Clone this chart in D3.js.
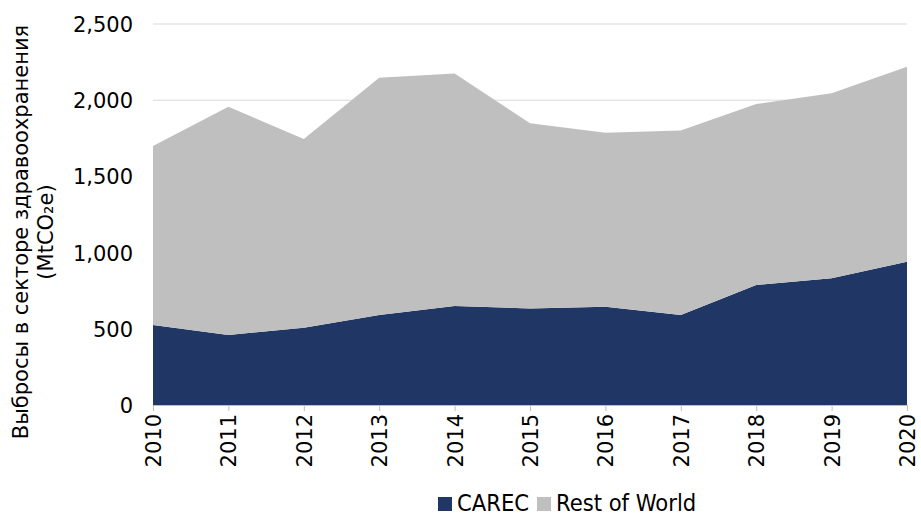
<!DOCTYPE html>
<html lang="ru">
<head>
    <meta charset="UTF-8">
    <script src="https://d3js.org/d3.v7.min.js"></script>
    <style>
        body { margin: 0; background: #fff; }
        text { font-family: "DejaVu Sans", Verdana, sans-serif; fill: #000; }
        .legend text { font-family: "DejaVu Sans Condensed", "DejaVu Sans", sans-serif; font-stretch: condensed; }
    </style>
</head>
<body>
    <svg id="chart" width="921" height="517"></svg>
    <script>
        // Данные с графика (MtCO2e)
        const years = [2010, 2011, 2012, 2013, 2014, 2015, 2016, 2017, 2018, 2019, 2020];
        const carec = [525, 459, 507, 591, 650, 634, 645, 591, 787, 831, 940];
        const restOfWorld = [1174, 1498, 1238, 1557, 1526, 1214, 1142, 1211, 1188, 1214, 1280];
        const yTicks = [0, 500, 1000, 1500, 2000, 2500];
        const seriesNames = ["CAREC", "Rest of World"];
        const colors = ["#203765", "#bfbfbf"];

        const width = 921, height = 517;
        const margin = { top: 24, right: 14, bottom: 112, left: 153 };

        const svg = d3.select("#chart");

        const x = d3.scaleLinear()
            .domain([years[0], years[years.length - 1]])
            .range([margin.left, width - margin.right]);

        const y = d3.scaleLinear()
            .domain([0, 2500])
            .range([height - margin.bottom, margin.top]);

        // Сетка
        svg.append("g")
            .selectAll("line")
            .data(yTicks.slice(1))
            .enter().append("line")
            .attr("x1", margin.left)
            .attr("x2", width - margin.right)
            .attr("y1", d => y(d))
            .attr("y2", d => y(d))
            .attr("stroke", "#d9d9d9")
            .attr("stroke-width", 1);

        // Стек
        const table = years.map((yr, i) => ({ year: yr, "CAREC": carec[i], "Rest of World": restOfWorld[i] }));
        const stacked = d3.stack().keys(seriesNames)(table);

        const area = d3.area()
            .x(d => x(d.data.year))
            .y0(d => y(d[0]))
            .y1(d => y(d[1]));

        svg.append("g")
            .selectAll("path")
            .data(stacked)
            .enter().append("path")
            .attr("d", area)
            .attr("fill", (d, i) => colors[i]);

        // Ось X
        const xAxis = svg.append("g")
            .attr("transform", `translate(0,${height - margin.bottom})`)
            .call(d3.axisBottom(x).tickValues(years).tickFormat(d3.format("d")).tickSize(6).tickSizeOuter(0));
        xAxis.select(".domain").attr("stroke", "#bfbfbf");
        xAxis.selectAll(".tick line").attr("stroke", "#bfbfbf");
        xAxis.selectAll(".tick text")
            .style("font-size", "21px")
            .attr("transform", "rotate(-90)")
            .attr("text-anchor", "end")
            .attr("x", -9)
            .attr("y", 0)
            .attr("dy", "0.36em");

        // Ось Y
        const yAxis = svg.append("g")
            .attr("transform", `translate(${margin.left},0)`)
            .call(d3.axisLeft(y).tickValues(yTicks).tickFormat(d3.format(",")).tickSize(0));
        yAxis.select(".domain").remove();
        yAxis.selectAll(".tick text")
            .style("font-size", "21px")
            .attr("x", -20)
            .attr("dy", "0.36em");

        // Подпись оси Y
        const titleY = 232;
        svg.append("text")
            .attr("transform", `translate(28,${titleY}) rotate(-90)`)
            .attr("text-anchor", "middle")
            .style("font-size", "21px")
            .text("Выбросы в секторе здравоохранения");
        svg.append("text")
            .attr("transform", `translate(53,${titleY}) rotate(-90)`)
            .attr("text-anchor", "middle")
            .style("font-size", "21px")
            .text("(MtCO₂e)");

        // Легенда
        const legend = svg.append("g").attr("class", "legend").attr("transform", "translate(438,0)");
        const offsets = [0, 99];
        seriesNames.forEach((name, i) => {
            const g = legend.append("g").attr("transform", `translate(${offsets[i]},0)`);
            g.append("rect")
                .attr("x", 0).attr("y", 497)
                .attr("width", 14).attr("height", 14)
                .attr("fill", colors[i]);
            g.append("text")
                .attr("x", 19).attr("y", 511)
                .style("font-size", "23.5px")
                .text(name);
        });
    </script>
</body>
</html>
